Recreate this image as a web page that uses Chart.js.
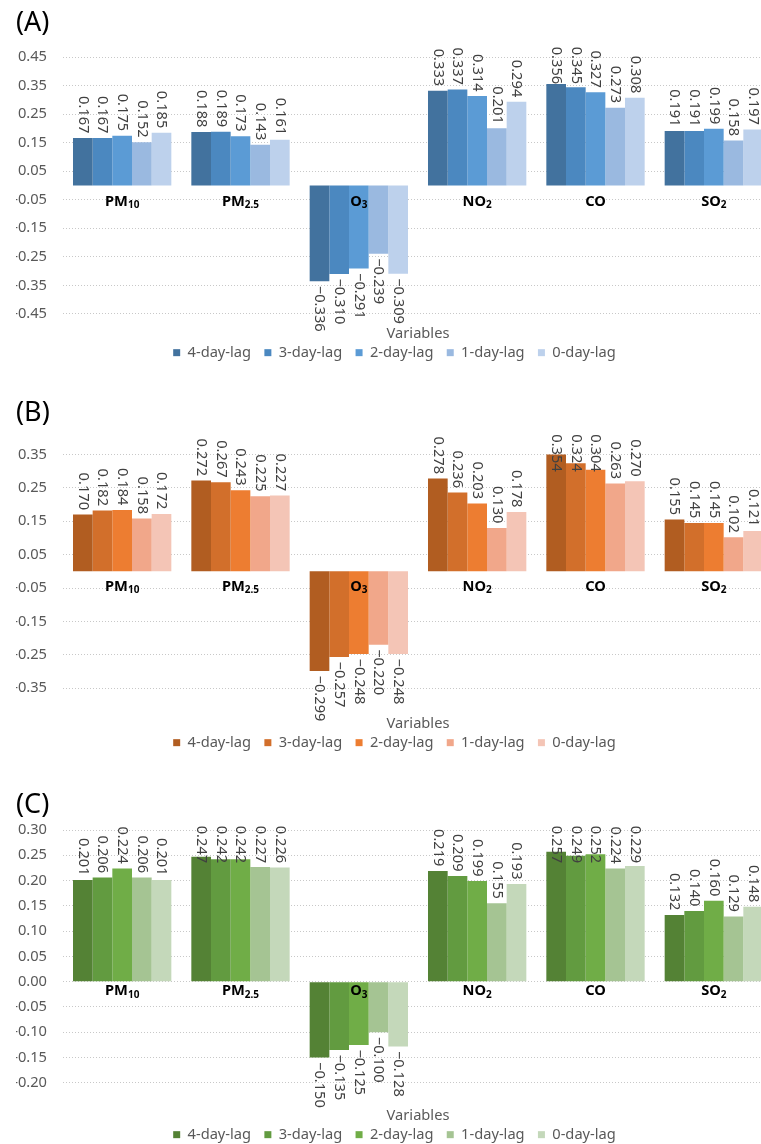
<!DOCTYPE html>
<html>
<head>
<meta charset="utf-8">
<script src="https://cdn.jsdelivr.net/npm/chart.js@4.4.1/dist/chart.umd.min.js"></script>
<style>
  html, body { margin: 0; padding: 0; background: #fff; overflow: hidden; }
  .panel { position: absolute; left: 0; }
</style>
</head>
<body>
<div class="panel" style="top:0px"><canvas id="chartA" width="773" height="370"></canvas></div>
<div class="panel" style="top:390px"><canvas id="chartB" width="773" height="370"></canvas></div>
<div class="panel" style="top:782px"><canvas id="chartC" width="773" height="370"></canvas></div>

<script>
const categories = ['PM10', 'PM2.5', 'O3', 'NO2', 'CO', 'SO2'];
const lagNames = ['4-day-lag', '3-day-lag', '2-day-lag', '1-day-lag', '0-day-lag'];

// (A) correlations per lag, in category order
const lag4A = [0.167, 0.188, -0.336, 0.333, 0.356, 0.191];
const lag3A = [0.167, 0.189, -0.310, 0.337, 0.345, 0.191];
const lag2A = [0.175, 0.173, -0.291, 0.314, 0.327, 0.199];
const lag1A = [0.152, 0.143, -0.239, 0.201, 0.273, 0.158];
const lag0A = [0.185, 0.161, -0.309, 0.294, 0.308, 0.197];
const ticksA = [-0.45, -0.35, -0.25, -0.15, -0.05, 0.05, 0.15, 0.25, 0.35, 0.45];

// (B)
const lag4B = [0.170, 0.272, -0.299, 0.278, 0.354, 0.155];
const lag3B = [0.182, 0.267, -0.257, 0.236, 0.324, 0.145];
const lag2B = [0.184, 0.243, -0.248, 0.203, 0.304, 0.145];
const lag1B = [0.158, 0.225, -0.220, 0.130, 0.263, 0.102];
const lag0B = [0.172, 0.227, -0.248, 0.178, 0.270, 0.121];
const ticksB = [-0.35, -0.25, -0.15, -0.05, 0.05, 0.15, 0.25, 0.35];

// (C)
const lag4C = [0.201, 0.247, -0.150, 0.219, 0.257, 0.132];
const lag3C = [0.206, 0.242, -0.135, 0.209, 0.249, 0.140];
const lag2C = [0.224, 0.242, -0.125, 0.199, 0.252, 0.160];
const lag1C = [0.206, 0.227, -0.100, 0.155, 0.224, 0.129];
const lag0C = [0.201, 0.226, -0.128, 0.193, 0.229, 0.148];
const ticksC = [-0.20, -0.15, -0.10, -0.05, 0.00, 0.05, 0.10, 0.15, 0.20, 0.25, 0.30];

const blues = ['#42729E', '#4B88C0', '#5B9BD5', '#9AB9E0', '#BDD1EC'];
const oranges = ['#B15D21', '#D26F2B', '#ED7D31', '#F1A78A', '#F4C5B6'];
const greens = ['#548235', '#629B40', '#70AD47', '#A5C493', '#C4D8BA'];

const UI_FONT = 'Noto Sans';
const GREY = '#595959';

// vertical value labels: above positive bars, below negative ones
const lagLabels = {
  id: 'lagLabels',
  afterDatasetsDraw(chart, args, opts) {
    const { ctx, chartArea } = chart;
    ctx.save();
    ctx.font = opts.font;
    ctx.fillStyle = opts.color;
    ctx.textBaseline = 'middle';
    chart.data.datasets.forEach((ds, i) => {
      const meta = chart.getDatasetMeta(i);
      meta.data.forEach((bar, j) => {
        const v = ds.data[j];
        const text = (v < 0 ? '\u2212' : '') + Math.abs(v).toFixed(3);
        const w = ctx.measureText(text).width;
        ctx.save();
        if (v >= 0) {
          // keep the label from running above the plot
          const y = Math.max(bar.y - opts.gap, chartArea.top - opts.clampAbove + w);
          ctx.translate(bar.x, y);
          ctx.textAlign = 'right';
        } else {
          ctx.translate(bar.x, bar.y + opts.gap);
          ctx.textAlign = 'left';
        }
        ctx.rotate(Math.PI / 2);
        ctx.fillText(text, 0, 0);
        ctx.restore();
      });
    });
    ctx.restore();
  }
};

// category names sit on the zero line, with chemical subscripts
const categoryTicks = {
  id: 'categoryTicks',
  afterDatasetsDraw(chart, args, opts) {
    const { ctx, scales: { x, y } } = chart;
    const ty = y.getPixelForValue(0) + opts.offset;
    ctx.save();
    ctx.fillStyle = opts.color;
    ctx.textBaseline = 'middle';
    ctx.textAlign = 'left';
    chart.data.labels.forEach((label, i) => {
      const [, base, sub] = label.match(/^([A-Z]+)(.*)$/);
      ctx.font = opts.font;
      const w1 = ctx.measureText(base).width;
      ctx.font = opts.subFont;
      const w2 = ctx.measureText(sub).width;
      const left = x.getPixelForValue(i) - (w1 + w2) / 2;
      ctx.font = opts.font;
      ctx.fillText(base, left, ty);
      ctx.font = opts.subFont;
      ctx.fillText(sub, left + w1, ty + opts.subShift);
    });
    ctx.restore();
  }
};

function drawPanel(id, title, series, colors, ticks, look) {
  new Chart(document.getElementById(id), {
    type: 'bar',
    data: {
      labels: categories,
      datasets: series.map((values, i) => ({
        label: lagNames[i],
        data: values,
        backgroundColor: colors[i],
        borderWidth: 0,
        barPercentage: 1,
        categoryPercentage: 0.831
      }))
    },
    options: {
      responsive: false,
      animation: false,
      layout: { padding: { left: 16, right: 0, top: 0, bottom: 0 } },
      scales: {
        x: {
          grid: { display: false, drawTicks: false },
          border: { display: false },
          ticks: { display: false },
          title: {
            display: true,
            text: 'Variables',
            color: GREY,
            font: { family: UI_FONT, size: 14.67 },
            padding: { top: look.axisTitleTop, bottom: -10.9 }
          }
        },
        y: {
          min: ticks[0],
          max: ticks[ticks.length - 1],
          afterBuildTicks: s => { s.ticks = ticks.map(v => ({ value: v })); },
          afterFit: s => { s.width = 47; },
          grid: { color: '#C8C8C8', drawTicks: false },
          border: { display: false, dash: [1, 2] },
          ticks: {
            padding: 16,
            color: GREY,
            font: { family: UI_FONT, size: 14.67 },
            callback: v => v.toFixed(2)
          }
        }
      },
      plugins: {
        title: {
          display: true,
          text: title,
          align: 'start',
          color: '#000',
          font: { family: UI_FONT, size: 27, weight: 'normal' },
          padding: { top: 6.8, bottom: look.titleBottom }
        },
        legend: {
          position: 'bottom',
          labels: {
            boxWidth: 7,
            boxHeight: 7,
            padding: 13.3,
            color: GREY,
            font: { family: UI_FONT, size: 14.67 }
          }
        },
        tooltip: { enabled: false },
        lagLabels: {
          font: '14.67px "Noto Sans"',
          color: '#404040',
          gap: 4.5,
          clampAbove: look.clampAbove
        },
        categoryTicks: {
          font: 'bold 14.67px "Noto Sans"',
          subFont: 'bold 10px "Noto Sans"',
          subShift: 4,
          color: '#000',
          offset: look.catOffset
        }
      }
    },
    plugins: [lagLabels, categoryTicks]
  });
}

drawPanel('chartA', '(A)', [lag4A, lag3A, lag2A, lag1A, lag0A], blues, ticksA,
  { titleBottom: 18.1, axisTitleTop: 11.5, clampAbove: 10.6, catOffset: 16 });
drawPanel('chartB', '(B)', [lag4B, lag3B, lag2B, lag1B, lag0B], oranges, ticksB,
  { titleBottom: 25.3, axisTitleTop: 27.2, clampAbove: 20.2, catOffset: 15.3 });
drawPanel('chartC', '(C)', [lag4C, lag3C, lag2C, lag1C, lag0C], greens, ticksC,
  { titleBottom: 8.8, axisTitleTop: 24.5, clampAbove: 4.3, catOffset: 9 });
</script>
</body>
</html>
